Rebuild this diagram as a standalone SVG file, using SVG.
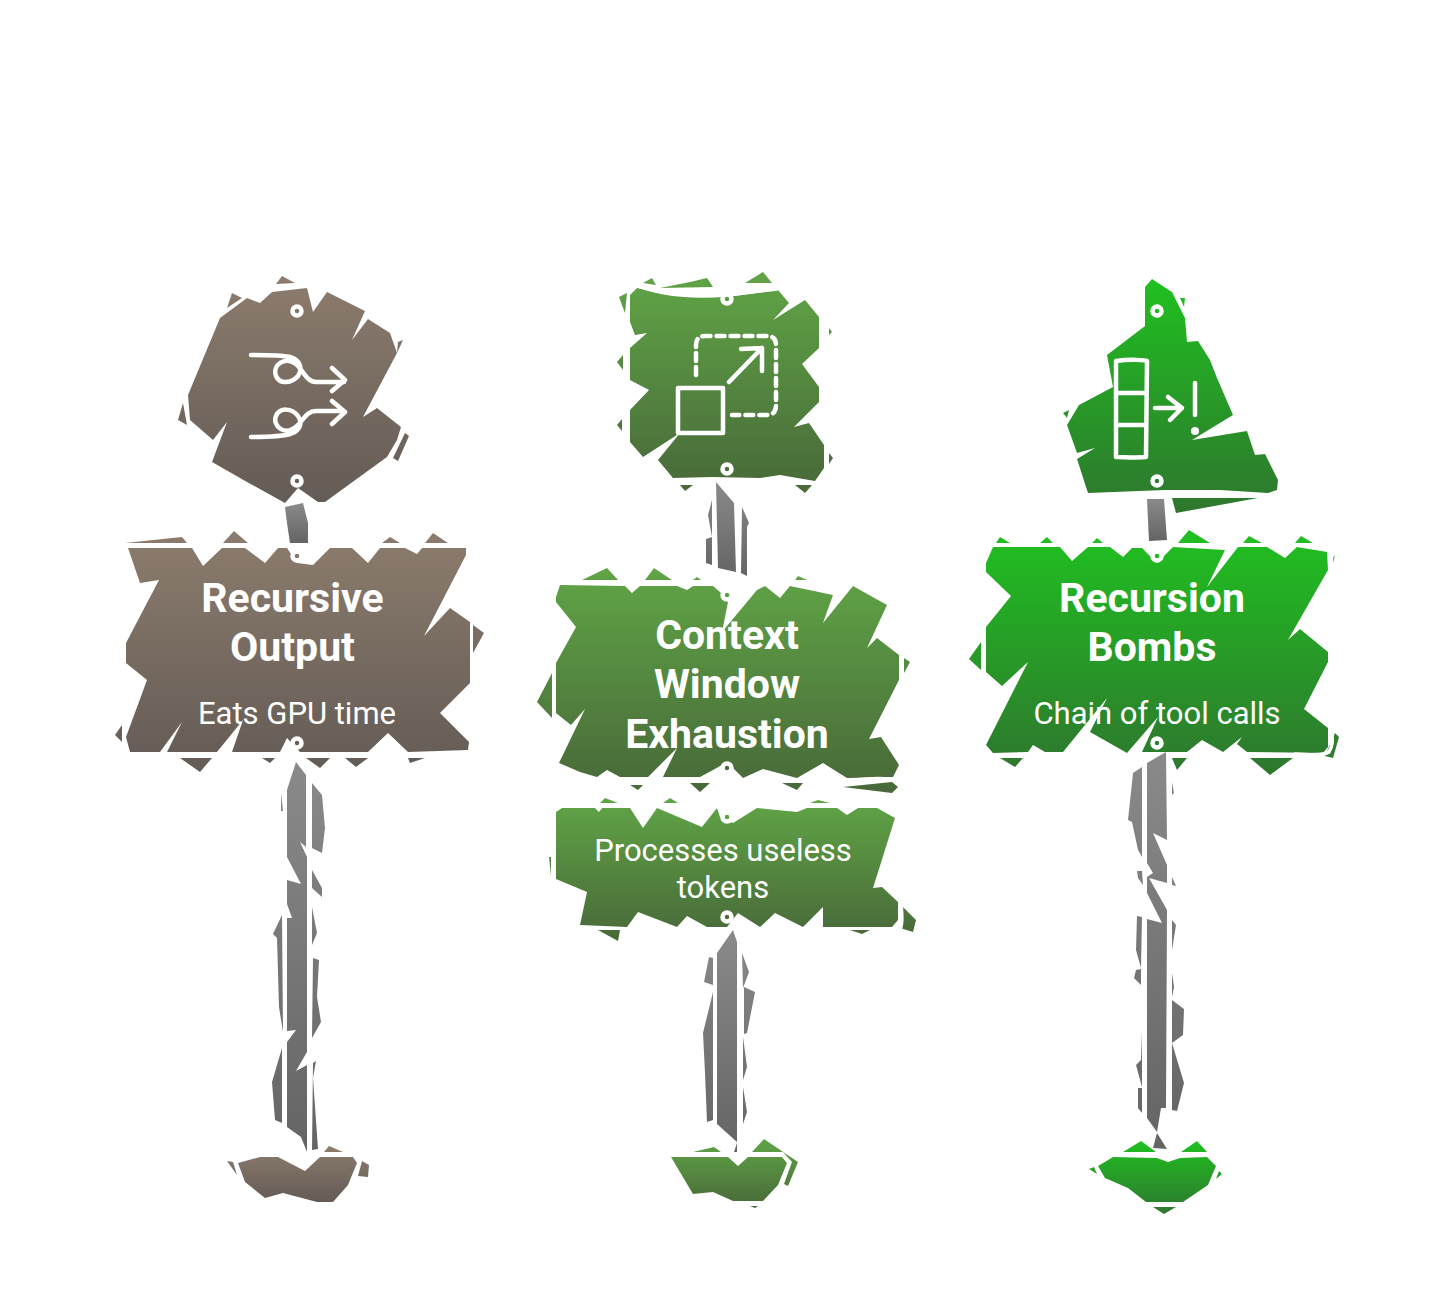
<svg xmlns="http://www.w3.org/2000/svg" width="1456" height="1304" viewBox="0 0 1456 1304">
<style>
.t{font-family:Roboto,"Liberation Sans",sans-serif;font-weight:700;font-size:41px;fill:#fff;text-anchor:middle}
.s{font-family:Roboto,"Liberation Sans",sans-serif;font-weight:400;font-size:31px;fill:#fff;text-anchor:middle}
.i{fill:none;stroke:#fff;stroke-width:4.500;stroke-linecap:round;stroke-linejoin:round}
.h{stroke:#fff;stroke-width:4.500}
.w{fill:none;stroke:#fff;stroke-width:3.500;stroke-linecap:round}
.b{fill:url(#gb)}.g{fill:url(#gg)}.v{fill:url(#gv)}.p{fill:url(#gp)}
</style>
<defs>
<linearGradient id="gb" x1="0" y1="0" x2="0" y2="1"><stop offset="0" stop-color="#8c7c6d"/><stop offset="1" stop-color="#635b55"/></linearGradient>
<linearGradient id="gg" x1="0" y1="0" x2="0" y2="1"><stop offset="0" stop-color="#60a546"/><stop offset="1" stop-color="#486839"/></linearGradient>
<linearGradient id="gv" x1="0" y1="0" x2="0" y2="1"><stop offset="0" stop-color="#20c020"/><stop offset="1" stop-color="#2e762e"/></linearGradient>
<linearGradient id="gp" x1="0" y1="0" x2="0" y2="1"><stop offset="0" stop-color="#8a8a8a"/><stop offset="1" stop-color="#646464"/></linearGradient>
</defs>
<rect width="1456" height="1304" fill="#fff"/>
<g id="connectors">
<path class="p" d="M285,507L303,503L308,523L308,543L290,543L287,523Z"/>
<path class="p" d="M296,762L306,775L306,847L300,842L307,857L307,1040L307,1052L296,1071L307,1065L307,1152L301,1137L287,1127L287,1042L296,1030L287,1031L287,918L292,918L287,904L287,880L301,884L287,857L287,790ZM312,783L322,795L325,828L322,853L312,848ZM312,870L322,888L322,897L312,888ZM312,907L317,933L312,945ZM313,958L319,960L317,997L321,1022L312,1038ZM313,1063L316,1061L313,1078L318,1149L312,1150ZM281,793L283,811L281,811ZM282,915L283,1032L279,1007L277,938L273,934ZM282,1048L282,1123L275,1120L272,1082Z"/>
<path class="p" d="M716,482L734,503L736,572L718,568ZM712,500L708,515L712,537L706,539L706,563L712,565ZM742,507L749,523L747,527L747,576L741,573Z"/>
<path class="p" d="M733,930L737,942L737,1142L717,1124L717,953ZM737,1143L737,1152L734,1152ZM709,957L713,958L713,985L704,982ZM713,992L713,1120L707,1122L705,1073L703,1033ZM742,953L749,972L743,988ZM744,987L755,992L747,1033L744,1034ZM743,1037L747,1067L743,1080ZM743,1087L747,1112L743,1124Z"/>
<path class="p" d="M1147,499L1164,499L1167,540L1149,541Z"/>
<path class="p" d="M1147,763L1166,752L1167,840L1153,833L1167,865L1167,883L1149,878L1167,910L1166,1108L1161,1108L1157,1132L1147,1118L1147,919L1162,923L1147,893L1147,877L1153,873L1147,863ZM1157,1133L1167,1149L1153,1148ZM1133,773L1142,767L1142,857L1138,850L1132,822L1128,820ZM1137,871L1142,871L1143,885L1138,878ZM1137,916L1142,917L1141,968L1136,950ZM1136,970L1141,969L1141,985L1134,978ZM1142,1032L1142,1087L1136,1065L1141,1060ZM1138,1088L1142,1088L1142,1113L1138,1108ZM1172,782L1174,793L1172,795ZM1172,877L1176,886L1172,885ZM1172,920L1176,925L1172,950ZM1172,973L1174,987L1172,997ZM1172,1000L1184,1009L1183,1035L1172,1043ZM1172,1043L1184,1083L1177,1111L1172,1110Z"/>
</g>
<g id="node-recursive-icon">
<path class="b" d="M220,318L247,298L260,303L272,292L307,288L313,312L327,292L365,311L352,340L368,319L390,333L397,353L363,417L377,408L401,427L397,440L387,457L325,502L318,502L298,488L285,503L247,482L212,462L227,422L213,440L190,420L188,395ZM276,284L282,276L295,283ZM227,308L232,293L242,298ZM398,342L403,340L397,353ZM178,420L183,403L187,425ZM393,458L405,433L409,436L398,461Z"/>
<circle class="h" cx="297" cy="311" r="4.500" fill="#85766a"/><circle class="h" cx="297" cy="481" r="4.500" fill="#6b6159"/>
<path class="i" d="M251,355C265,355 280,355 290,357C300,360 303,368 298,376C292,383 280,385 276,376C272,365 285,355 297,365C304,372 307,382 316,382L344,382M332,368L345,380L332,391"/>
<path class="i" d="M251,437C265,437 280,437 290,434C300,431 303,423 298,416C292,408 280,407 276,416C272,426 285,437 297,426C304,419 307,411 316,411L344,411M332,401L345,412L332,424"/>
</g>
<g id="node-recursive">
<path class="b" d="M128,548L192,548L203,566L222,548L245,548L265,563L278,548L287,548L297,563L313,565L330,548L352,548L368,563L380,548L405,548L417,554L422,548L466,548L466,555L424,636L450,608L470,622L470,683L440,713L469,742L468,750L408,752L388,733L368,752L300,752L287,738L280,752L232,752L243,720L217,752L167,752L182,722L160,752L130,752L126,737L147,680L126,663L126,643L159,580L140,583ZM125,543L182,537L187,543ZM223,543L234,531L248,543ZM382,543L390,537L400,543ZM425,543L433,533L448,543ZM473,625L484,633L473,653ZM115,735L122,725L122,742ZM180,758L212,758L200,772ZM345,758L368,758L356,767ZM408,758L425,758L410,763ZM262,758L275,758L270,763ZM306,758L330,758L320,768Z"/>
<circle class="h" cx="297" cy="556" r="4.500" fill="#85766a"/><circle class="h" cx="297" cy="743" r="4.500" fill="#675e58"/>
<text class="t" x="292.500" y="611.500">Recursive</text><text class="t" x="292.500" y="660.500">Output</text>
<text class="s" x="297" y="724">Eats GPU time</text>
</g>
<g id="node-recursive-base"><path class="b" d="M238,1163L260,1157L278,1157L305,1171L320,1157L353,1157L357,1163L348,1185L333,1202L317,1202L283,1193L265,1198L245,1182ZM227,1161L233,1162L237,1175ZM362,1161L369,1165L368,1177L358,1176ZM324,1152L329,1146L343,1152Z"/></g>
<g id="node-context-icon">
<path class="g" d="M630,295L637,288L687,297L727,297L778,290L789,303L773,320L805,300L819,317L819,348L802,364L819,387L819,402L794,427L809,423L824,445L824,468L815,481L780,475L760,478L712,477L673,478L658,460L680,433L643,457L630,442L630,410L649,390L630,380L630,348L647,333L635,335L630,322ZM643,283L652,278L656,285ZM690,282L707,278L713,287L660,288ZM745,283L763,272L772,283ZM619,297L627,293L625,313ZM617,362L623,355L623,370ZM617,425L622,419L622,431ZM829,328L832,332L829,335ZM829,453L833,458L829,464ZM680,485L693,485L685,491ZM795,485L812,485L805,493Z"/>
<path class="w" d="M638,286C670,297 700,297 727,295L777,289"/>
<circle class="h" cx="727" cy="299" r="4.500" fill="#5e9f44"/><circle class="h" cx="727" cy="469" r="4.500" fill="#4a6e3a"/>
<path class="i" d="M678,388L723,388L723,433L678,433Z"/>
<path class="i" stroke-dasharray="8 6" d="M696,375V345Q696,336 705,336H767Q776,336 776,345V405Q776,415 767,415H732"/>
<path class="i" d="M729,382L762,348M741,349L762,348L762,371"/>
</g>
<g id="node-context">
<path class="g" d="M556,597L560,585L625,586L632,593L640,586L677,586L687,590L693,586L713,586L727,598L730,592L722,632L757,590L765,586L780,598L790,586L833,595L823,623L853,586L887,605L867,648L877,638L899,655L899,680L869,739L881,737L899,765L893,777L847,778L823,763L797,778L763,769L743,778L727,762L713,770L700,777L663,777L677,748L648,777L620,777L607,770L597,777L580,772L559,763L585,709L571,725L556,713L556,663L576,627L556,602ZM537,702L552,673L552,718ZM904,658L910,662L904,673ZM582,580L607,568L618,580ZM645,580L654,568L672,580ZM693,580L697,577L701,580ZM795,580L798,576L807,580ZM630,785L643,785L638,790ZM690,783L710,783L700,792ZM782,783L803,783L797,790ZM843,787L892,782L898,787L892,793Z"/>
<path class="w" d="M847,781C865,778 880,778 892,779C899,778 902,774 904,768"/>
<circle class="h" cx="727" cy="595" r="4.500" fill="#5e9f44"/><circle class="h" cx="727" cy="768" r="4.500" fill="#4a6e3a"/>
<text class="t" x="727" y="648.500">Context</text><text class="t" x="727" y="697.500">Window</text><text class="t" x="727" y="747.500">Exhaustion</text>
</g>
<g id="node-processes">
<path class="g" d="M556,812L562,808L595,808L599,812L602,808L630,808L643,828L657,808L702,827L694,837L717,808L720,817L733,823L757,808L797,812L807,808L837,808L847,815L858,808L877,808L895,818L873,888L882,887L898,902L898,920L892,927L823,927L823,907L803,927L775,913L760,927L738,913L727,927L707,927L687,916L677,927L638,912L627,927L580,925L587,892L556,879ZM605,798L618,803L600,803ZM549,857L551,876L551,857ZM903,907L916,920L913,932L900,928ZM598,930L620,930L618,941ZM663,803L670,798L678,803ZM810,803L818,800L830,803ZM850,930L870,930L862,934Z"/>
<circle class="h" cx="727" cy="817" r="4.500" fill="#5e9f44"/><circle class="h" cx="727" cy="917" r="4.500" fill="#4a6e3a"/>
<path class="w" d="M550,845V812Q552,806 560,805H590M899,932C903,925 902,915 901,903"/>
<text class="s" x="723" y="861">Processes useless</text><text class="s" x="723" y="898">tokens</text>
</g>
<g id="node-context-base"><path class="g" d="M671,1157L728,1157L738,1166L748,1157L782,1157L787,1163L778,1185L763,1201L733,1201L713,1192L693,1194ZM693,1152L714,1147L721,1152ZM752,1152L764,1139L798,1162L788,1186L784,1184L792,1162L783,1152ZM750,1206L758,1206L755,1208Z"/></g>
<g id="node-bombs-icon">
<path class="v" d="M1145,287L1152,279L1172,292L1185,318L1187,342L1198,341L1210,360L1217,378L1233,415L1192,440L1247,431L1255,455L1265,454L1278,480L1277,490L1268,493L1220,490L1165,490L1088,493L1077,459L1095,448L1077,453L1067,425L1079,405L1113,387L1107,355L1145,326ZM1172,498L1258,498L1176,513ZM1063,413L1069,410L1067,418ZM1180,298L1185,298L1184,307Z"/>
<circle class="h" cx="1157" cy="311" r="4.500" fill="#22b822"/><circle class="h" cx="1157" cy="481" r="4.500" fill="#2e802e"/>
<path class="i" d="M1116,361C1130,359 1145,360 1147,361L1146,457C1135,458 1125,457 1116,457ZM1116,393L1146,393M1116,425L1146,425"/>
<path class="i" d="M1155,408L1182,408M1168,397L1182,408L1170,420M1195,383L1195,415"/>
<circle cx="1195" cy="431" r="4" fill="#fff"/>
</g>
<g id="node-bombs">
<path class="v" d="M986,563L993,547L1022,547L1060,547L1072,561L1088,547L1110,547L1123,557L1132,548L1142,548L1157,563L1173,547L1225,550L1207,587L1238,547L1267,547L1285,558L1297,547L1327,552L1328,570L1288,640L1300,629L1328,652L1328,662L1304,709L1328,728L1328,747L1323,753L1247,752L1237,744L1242,737L1223,752L1202,740L1187,752L1142,752L1158,717L1127,753L1090,732L1107,698L1063,752L1045,752L1033,745L1028,752L993,753L986,745L1028,662L1002,686L986,672L986,627L1011,596L986,572ZM996,543L1000,537L1010,543ZM1040,543L1047,537L1053,543ZM1092,543L1097,538L1103,543ZM1178,543L1189,530L1210,543ZM1243,543L1249,536L1262,543ZM1295,543L1301,536L1313,543ZM969,659L981,642L981,670ZM1333,558L1335,555L1333,563ZM1000,758L1023,758L1015,767ZM1172,758L1187,758L1177,770ZM1250,758L1293,758L1270,775ZM1335,733L1339,737L1333,758L1325,756Z"/>
<circle class="h" cx="1157" cy="556" r="4.500" fill="#22b822"/><circle class="h" cx="1157" cy="743" r="4.500" fill="#2e802e"/>
<path class="w" d="M1295,754C1310,755 1325,755 1329,752C1333,745 1333,738 1331,733"/>
<text class="t" x="1152" y="611.500">Recursion</text><text class="t" x="1152" y="660.500">Bombs</text>
<text class="s" x="1157" y="724">Chain of tool calls</text>
</g>
<g id="node-bombs-base"><path class="v" d="M1098,1166L1113,1157L1157,1158L1168,1162L1180,1158L1207,1157L1216,1166L1208,1185L1183,1202L1146,1202L1128,1188L1105,1178ZM1123,1152L1141,1141L1156,1152ZM1181,1152L1197,1141L1207,1152ZM1153,1207L1176,1207L1164,1214ZM1089,1169L1094,1167L1097,1174ZM1216,1179L1219,1171L1222,1174Z"/></g>
</svg>
